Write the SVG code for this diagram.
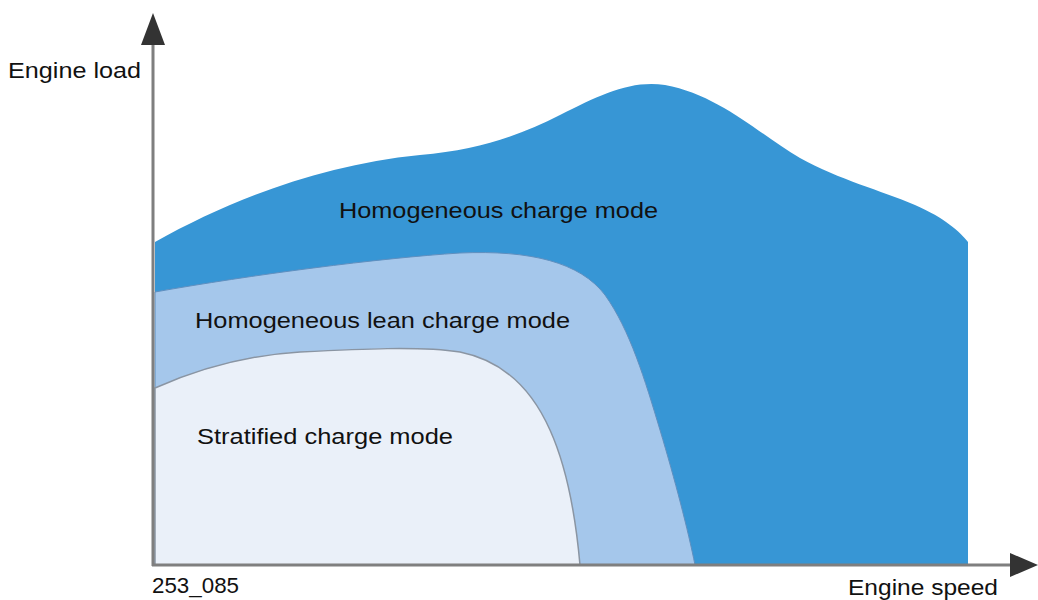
<svg xmlns="http://www.w3.org/2000/svg" width="1038" height="600" viewBox="0 0 1038 600">
<style>
.lbl{font-family:"Liberation Sans",Arial,sans-serif;font-size:22px;fill:#111}
.axis{stroke:#7f7f7f;stroke-width:3;fill:none}
.head{fill:#333}
</style>
<rect width="1038" height="600" fill="#ffffff"/>
<g id="homogeneous">
<path d="M155,242 C230,200 320,165 420,155 C480,150 520,135 560,115 C600,95 630,80 665,85 C720,95 760,135 800,158 C840,180 880,190 915,205 C945,218 960,232 968,242 L968,565 L155,565 Z" fill="#3796d5"/>
<text class="lbl" x="339" y="218" textLength="319" lengthAdjust="spacingAndGlyphs">Homogeneous charge mode</text>
</g>
<g id="lean">
<path d="M155,292 C250,275 380,258 460,253 C530,250 580,262 605,295 C630,330 645,380 660,430 C675,480 688,530 695,565 L155,565 Z" fill="#a5c7eb" stroke="#5f8fbf" stroke-width="1"/>
<text class="lbl" x="195" y="328" textLength="375" lengthAdjust="spacingAndGlyphs">Homogeneous lean charge mode</text>
</g>
<g id="stratified">
<path d="M155,388 C200,368 250,355 300,352 C360,349 420,346 460,352 C500,360 530,385 550,430 C568,470 576,520 580,565 L155,565 Z" fill="#eaf0f9" stroke="#8a95a3" stroke-width="1.5"/>
<text class="lbl" x="197" y="444" textLength="256" lengthAdjust="spacingAndGlyphs">Stratified charge mode</text>
</g>
<g id="connectors">
<line class="axis" x1="153" y1="40" x2="153" y2="566"/>
<line class="axis" x1="152" y1="565" x2="1015" y2="565"/>
<polygon class="head" points="153,13 165,45 141,45"/>
<polygon class="head" points="1038,565 1010,553 1010,577"/>
</g>
<g id="labels">
<text class="lbl" x="8" y="78" textLength="133" lengthAdjust="spacingAndGlyphs">Engine load</text>
<text class="lbl" x="848" y="595" textLength="150" lengthAdjust="spacingAndGlyphs">Engine speed</text>
<text class="lbl" x="152" y="593" textLength="87" lengthAdjust="spacingAndGlyphs">253_085</text>
</g>
</svg>
